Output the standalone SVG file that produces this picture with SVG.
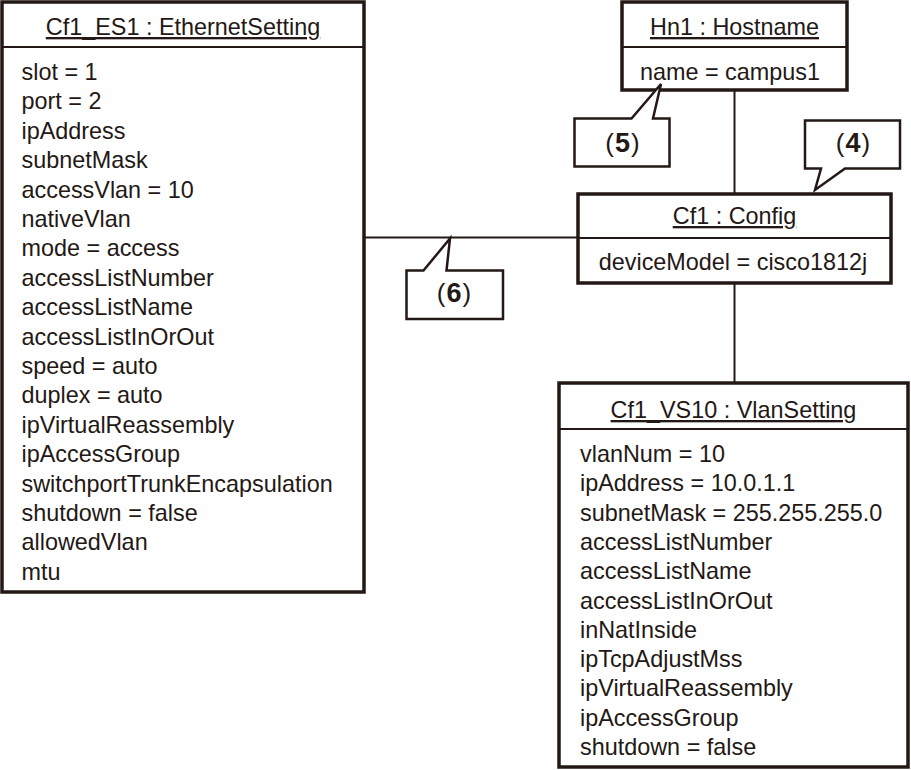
<svg xmlns="http://www.w3.org/2000/svg" width="911" height="770" viewBox="0 0 911 770">
<style>
.box{fill:#fff;stroke:#231815;stroke-width:3.5}
.div{stroke:#231815;stroke-width:2}
.con{stroke:#231815;stroke-width:2;fill:none}
.t{font-family:"Liberation Sans",Arial,sans-serif;font-size:23.4px;fill:#231815}
.ttl{text-anchor:middle;text-decoration:underline}
.mid{text-anchor:middle}
.call{fill:#fff;stroke:#231815;stroke-width:2.5;stroke-linejoin:miter}
.ct{font-family:"Liberation Sans",Arial,sans-serif;font-size:26px;fill:#231815;text-anchor:middle}
.b{font-weight:bold;font-size:27px}
</style>
<rect width="911" height="770" fill="#fff"/>
<g id="connectors">
<line class="con" x1="364" y1="237.5" x2="578" y2="237.5"/>
<line class="con" x1="734.5" y1="90" x2="734.5" y2="194"/>
<line class="con" x1="734.5" y1="283" x2="734.5" y2="383"/>
</g>
<g id="ES1">
<rect class="box" x="2" y="2" width="362" height="590"/>
<line class="div" x1="2" y1="47" x2="364" y2="47"/>
<text class="t ttl" x="183" y="35">Cf1_ES1 : EthernetSetting</text>
<text class="t" x="21.5" y="80">slot = 1</text>
<text class="t" x="21.5" y="109.4">port = 2</text>
<text class="t" x="21.5" y="138.8">ipAddress</text>
<text class="t" x="21.5" y="168.2">subnetMask</text>
<text class="t" x="21.5" y="197.6">accessVlan = 10</text>
<text class="t" x="21.5" y="227">nativeVlan</text>
<text class="t" x="21.5" y="256.4">mode = access</text>
<text class="t" x="21.5" y="285.8">accessListNumber</text>
<text class="t" x="21.5" y="315.2">accessListName</text>
<text class="t" x="21.5" y="344.6">accessListInOrOut</text>
<text class="t" x="21.5" y="374">speed = auto</text>
<text class="t" x="21.5" y="403.4">duplex = auto</text>
<text class="t" x="21.5" y="432.8">ipVirtualReassembly</text>
<text class="t" x="21.5" y="462.2">ipAccessGroup</text>
<text class="t" x="21.5" y="491.6">switchportTrunkEncapsulation</text>
<text class="t" x="21.5" y="521">shutdown = false</text>
<text class="t" x="21.5" y="550.4">allowedVlan</text>
<text class="t" x="21.5" y="579.8">mtu</text>
</g>
<g id="Hn1">
<rect class="box" x="622" y="2" width="225" height="88"/>
<line class="div" x1="622" y1="47" x2="847" y2="47"/>
<text class="t ttl" x="734.5" y="35">Hn1 : Hostname</text>
<text class="t mid" x="730" y="80">name = campus1</text>
</g>
<g id="Config">
<rect class="box" x="578" y="194" width="313" height="89"/>
<line class="div" x1="578" y1="238" x2="891" y2="238"/>
<text class="t ttl" x="734.5" y="224">Cf1 : Config</text>
<text class="t mid" x="733" y="270">deviceModel = cisco1812j</text>
</g>
<g id="VS10">
<rect class="box" x="559" y="383" width="349" height="384"/>
<line class="div" x1="559" y1="429" x2="908" y2="429"/>
<text class="t ttl" x="733.5" y="418">Cf1_VS10 : VlanSetting</text>
<text class="t" x="580" y="462">vlanNum = 10</text>
<text class="t" x="580" y="491.3">ipAddress = 10.0.1.1</text>
<text class="t" x="580" y="520.6">subnetMask = 255.255.255.0</text>
<text class="t" x="580" y="549.9">accessListNumber</text>
<text class="t" x="580" y="579.2">accessListName</text>
<text class="t" x="580" y="608.5">accessListInOrOut</text>
<text class="t" x="580" y="637.8">inNatInside</text>
<text class="t" x="580" y="667.1">ipTcpAdjustMss</text>
<text class="t" x="580" y="696.4">ipVirtualReassembly</text>
<text class="t" x="580" y="725.7">ipAccessGroup</text>
<text class="t" x="580" y="755">shutdown = false</text>
</g>
<g id="callout5">
<polygon class="call" points="574.5,118.5 631.5,118.5 661,84 653,118.5 669.5,118.5 669.5,166.5 574.5,166.5"/>
<text class="ct" x="622.5" y="152">(<tspan class="b" dx="1">5</tspan><tspan dx="1">)</tspan></text>
</g>
<g id="callout4">
<polygon class="call" points="805,120.5 900,120.5 900,168.5 845,168.5 815,190 821,168.5 805,168.5"/>
<text class="ct" x="853" y="152">(<tspan class="b" dx="1">4</tspan><tspan dx="1">)</tspan></text>
</g>
<g id="callout6">
<polygon class="call" points="406.5,270.5 423.5,270.5 450,238.5 446.5,270.5 503,270.5 503,319 406.5,319"/>
<text class="ct" x="454" y="302">(<tspan class="b" dx="1">6</tspan><tspan dx="1">)</tspan></text>
</g>
</svg>
